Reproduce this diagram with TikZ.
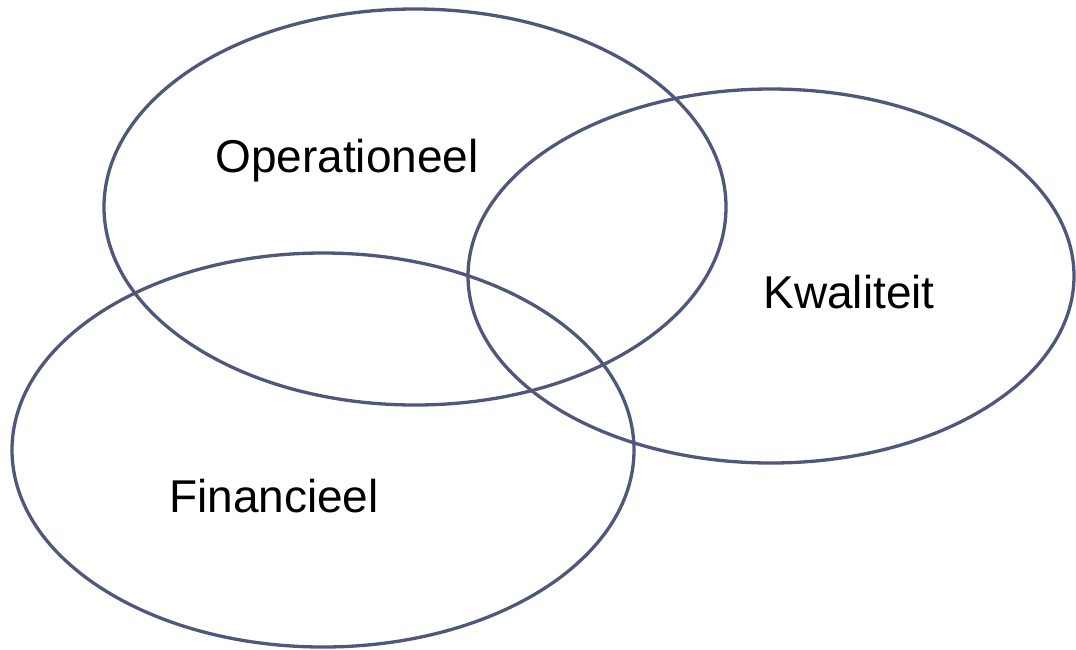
\documentclass[tikz,border=0pt]{standalone}
\usepackage{fontspec}
\setmainfont{Liberation Sans}
\definecolor{edge}{RGB}{79,88,122}
\begin{document}
\begin{tikzpicture}[x=1pt,y=-1pt,
  setshape/.style={draw=edge,line width=3.3pt},
  lbl/.style={anchor=base,inner sep=0pt,font=\fontsize{46}{52}\selectfont}]
\useasboundingbox (0,0) rectangle (1076,649);
\draw[setshape] (415,207) ellipse [x radius=311, y radius=198];
\draw[setshape] (771,276) ellipse [x radius=303, y radius=187];
\draw[setshape] (323,450) ellipse [x radius=311, y radius=197];
\node[lbl] (op) at (347,172) {Operationeel};
\node[lbl] (kw) at (849,308) {Kwaliteit};
\node[lbl] (fi) at (274,512) {Financieel};
\end{tikzpicture}
\end{document}
